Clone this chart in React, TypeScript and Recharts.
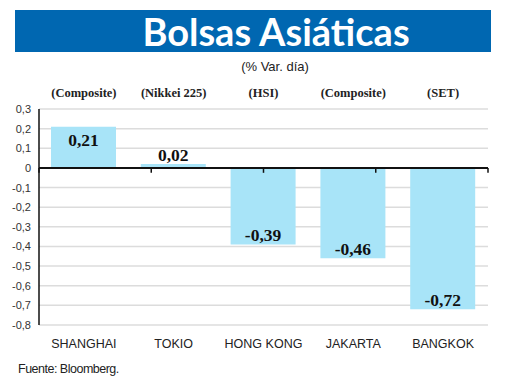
import React from "react";
import {
  BarChart,
  Bar,
  XAxis,
  YAxis,
  CartesianGrid,
  ReferenceLine,
  LabelList,
} from "recharts";

const cities = ["SHANGHAI", "TOKIO", "HONG KONG", "JAKARTA", "BANGKOK"];
const indexNames = ["(Composite)", "(Nikkei 225)", "(HSI)", "(Composite)", "(SET)"];
const changes = [0.21, 0.02, -0.39, -0.46, -0.72];
const yTicks = [0.3, 0.2, 0.1, 0, -0.1, -0.2, -0.3, -0.4, -0.5, -0.6, -0.7, -0.8];
const boundaries = [0, 1, 2, 3, 4, 5];

const data = cities.map((c, i) => ({ city: c, index: indexNames[i], value: changes[i] }));

const fmt = (v: number) => (v === 0 ? "0" : v.toFixed(1).replace(".", ","));
const fmt2 = (v: number) => v.toFixed(2).replace(".", ",");

const BottomTick = (props: any) => {
  const { x, y, payload } = props;
  return (
    <text x={x} y={y + 23} textAnchor="middle" fontFamily="Liberation Sans, Arial, sans-serif" fontSize={12.5} fill="#222">
      {payload.value}
    </text>
  );
};

const TopTick = (props: any) => {
  const { x, y, payload } = props;
  return (
    <text x={x} y={y - 12} textAnchor="middle" fontFamily="Liberation Serif, serif" fontWeight="bold" fontSize={12.5} fill="#222">
      {payload.value}
    </text>
  );
};

const YTick = (props: any) => {
  const { x, y, payload } = props;
  return (
    <text x={x} y={y + 4} textAnchor="end" fontFamily="Liberation Sans, Arial, sans-serif" fontSize={11} fill="#333">
      {fmt(payload.value)}
    </text>
  );
};

const ValueLabel = (props: any) => {
  const { x, y, width, height, value } = props;
  const top = Math.min(y, y + height);
  const bottom = Math.max(y, y + height);
  const h = bottom - top;
  let ty: number;
  if (value >= 0) {
    ty = h > 24 ? top + 19 : top - 3;
  } else {
    ty = bottom - 3;
  }
  return (
    <text x={x + width / 2} y={ty} textAnchor="middle" fontFamily="Liberation Serif, serif" fontWeight="bold" fontSize={17.5} fill="#111">
      {fmt2(value)}
    </text>
  );
};

export default function App() {
  return (
    <div style={{ position: "absolute", left: 0, top: 0, width: 520, height: 390, background: "#fff" }}>
      <div style={{ position: "absolute", left: 15, top: 10, width: 476, height: 42, background: "#0067B1" }} />
      <div
        style={{
          position: "absolute",
          left: 76,
          top: 10,
          width: 400,
          height: 42,
          lineHeight: "42px",
          textAlign: "center",
          color: "#fff",
          fontFamily: "Lato, sans-serif",
          fontWeight: "bold",
          fontSize: 38,
        }}
      >
        Bolsas Asiáticas
      </div>
      <div
        style={{
          position: "absolute",
          left: 175,
          top: 59,
          width: 200,
          textAlign: "center",
          fontFamily: "Liberation Sans, Arial, sans-serif",
          fontSize: 13,
          color: "#222",
        }}
      >
        (% Var. día)
      </div>
      <div style={{ position: "absolute", left: 0, top: 0 }}>
        <BarChart width={520} height={390} data={data} margin={{ top: 79, right: 32, bottom: 35, left: 0 }} barSize={65}>
          <CartesianGrid vertical={false} stroke="#dcdcdc" strokeWidth={1.5} />
          <XAxis dataKey="city" tick={<BottomTick />} axisLine={false} tickLine={false} tickSize={0} tickMargin={0} height={30} interval={0} />
          <XAxis xAxisId="top" dataKey="index" orientation="top" tick={<TopTick />} axisLine={false} tickLine={false} tickSize={0} tickMargin={0} height={30} interval={0} />
          <XAxis xAxisId="num" type="number" domain={[0, 5]} hide />
          <YAxis
            domain={[-0.8, 0.3]}
            ticks={yTicks}
            tick={<YTick />}
            width={39}
            axisLine={{ stroke: "#111", strokeWidth: 1.5 }}
            tickLine={false}
            tickSize={0}
            tickMargin={8}
            interval={0}
          />
          <Bar dataKey="value" fill="#A8E4F8" isAnimationActive={false}>
            <LabelList dataKey="value" content={<ValueLabel />} />
          </Bar>
          <ReferenceLine y={0} stroke="#111" strokeWidth={2} />
          {boundaries.map((k) => (
            <ReferenceLine
              key={k}
              xAxisId="num"
              segment={[{ x: k, y: 0 }, { x: k, y: -0.025 }]}
              stroke="#111"
              strokeWidth={1.5}
            />
          ))}
        </BarChart>
      </div>
      <div
        style={{
          position: "absolute",
          left: 18,
          top: 362,
          fontFamily: "Liberation Sans, Arial, sans-serif",
          fontSize: 12.5,
          letterSpacing: -0.5,
          color: "#222",
        }}
      >
        Fuente: Bloomberg.
      </div>
    </div>
  );
}
